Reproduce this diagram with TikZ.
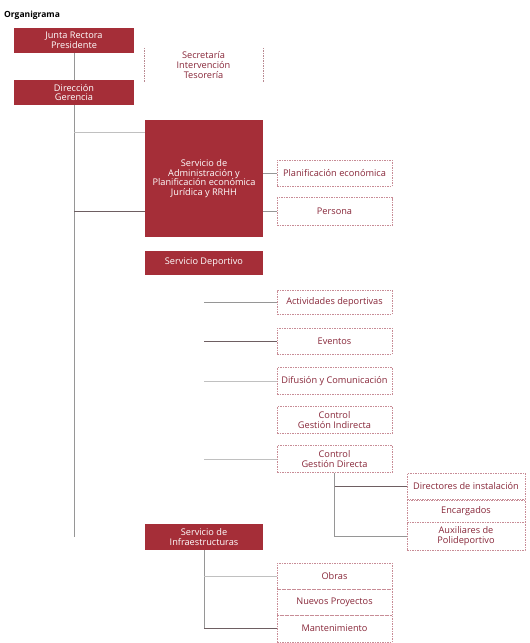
\documentclass[tikz,border=0pt]{standalone}
\usepackage{fontspec}
\setmainfont{Open Sans}
\definecolor{brick}{RGB}{165,46,56}
\definecolor{subtxt}{RGB}{135,38,56}
\definecolor{dashc}{RGB}{200,140,150}
\definecolor{linec}{RGB}{150,150,150}
\definecolor{linestrong}{RGB}{110,95,98}
\begin{document}
\begin{tikzpicture}[x=1pt,y=-1pt,
  every node/.style={font=\fontsize{9.2}{9.6}\selectfont, align=center, inner sep=1pt},
  darkbox/.style={fill=brick, text=white, minimum width=118pt},
  subbox/.style={draw=dashc, dash pattern=on 1.5pt off 1pt, line width=0.5pt, text=subtxt, minimum width=115pt},
  plainbox/.style={text=subtxt},
  sidedash/.style={draw=dashc!80!gray, dash pattern=on 1.5pt off 1pt, line width=0.6pt},
  link/.style={draw=linec, line width=0.5pt},
  faintlink/.style={draw=linec!60, line width=0.5pt},
  stronglink/.style={draw=linestrong, line width=1pt}]
\useasboundingbox (0,0) rectangle (530,643);
\node[anchor=west, font=\fontsize{8.5}{9}\selectfont\bfseries, text=black] (title) at (3,15) {Organigrama};
\node[darkbox, minimum width=120pt, minimum height=25pt] (junta) at (74,40.5) {Junta Rectora\\Presidente};
\node[darkbox, minimum width=120pt, minimum height=25pt] (dirg) at (74,92.5) {Dirección\\Gerencia};
\node[plainbox, minimum width=119pt, minimum height=34pt] (secr) at (203.5,65) {Secretaría\\Intervención\\Tesorería};
\draw[sidedash] (secr.north west) -- (secr.south west);
\draw[sidedash] (secr.north east) -- (secr.south east);
\node[darkbox, minimum height=117pt] (adm) at (204,178.5) {Servicio de\\Administración y\\Planificación económica\\Jurídica y RRHH};
\node[subbox, minimum height=26pt] (plan) at (334.5,173) {Planificación económica};
\node[subbox, minimum height=28pt] (pers) at (334.5,211.5) {Persona};
\node[darkbox, minimum height=24pt] (dep) at (204,262.5) {Servicio Deportivo};
\node[subbox, minimum height=24pt] (act) at (334.5,302) {Actividades deportivas};
\node[subbox, minimum height=26pt] (evt) at (334.5,341) {Eventos};
\node[subbox, minimum height=27pt] (dif) at (334.5,381) {Difusión y Comunicación};
\node[subbox, minimum height=27pt] (cgi) at (334.5,420) {Control\\Gestión Indirecta};
\node[subbox, minimum height=27pt] (cgd) at (334.5,459) {Control\\Gestión Directa};
\node[subbox, minimum width=118pt, minimum height=26pt] (dins) at (466,486) {Directores de instalación};
\node[subbox, minimum width=118pt, minimum height=22pt] (enc) at (466,511) {Encargados};
\node[subbox, minimum width=118pt, minimum height=28pt] (aux) at (466,536) {Auxiliares de\\Polideportivo};
\node[darkbox, minimum height=26pt] (inf) at (204,537) {Servicio de\\Infraestructuras};
\node[subbox, minimum height=26pt] (obr) at (334.5,576) {Obras};
\node[subbox, minimum height=26pt] (np) at (334.5,602) {Nuevos Proyectos};
\node[subbox, minimum height=27pt] (man) at (334.5,628.5) {Mantenimiento};
% connectors
\coordinate (mainend) at (74,537);
\coordinate (b1) at (74,132);
\coordinate (b2) at (74,211);
\draw[link] (junta) -- (dirg);
\draw[link] (dirg.south) -- (mainend);
\draw[faintlink] (b1) -- (b1 -| adm.west);
\draw[stronglink] (b2) -- (b2 -| adm.west);
\draw[link] (adm.east |- plan.west) -- (plan.west);
\draw[link] (adm.east |- pers.west) -- (pers.west);
\draw[link] (dep.south |- act.west) -- (act.west);
\draw[stronglink] (dep.south |- evt.west) -- (evt.west);
\draw[faintlink] (dep.south |- dif.west) -- (dif.west);
\draw[faintlink] (dep.south |- cgd.west) -- (cgd.west);
\draw[link] (cgd.south) -- (cgd.south |- aux.west) -- (aux.west);
\draw[stronglink] (cgd.south |- dins.west) -- (dins.west);
\draw[link] (inf.south) -- (inf.south |- man.west);
\draw[faintlink] (inf.south |- obr.west) -- (obr.west);
\draw[stronglink] (inf.south |- man.west) -- (man.west);
\end{tikzpicture}
\end{document}
